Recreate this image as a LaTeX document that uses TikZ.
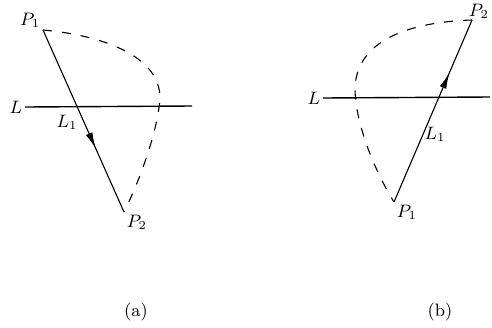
\documentclass[tikz,border=0pt]{standalone}
\usepackage{amsmath}
\usetikzlibrary{arrows.meta, decorations.markings}

\tikzset{
  seg/.style={line width=0.55pt},
  baseline/.style={line width=0.7pt},
  swing/.style={dashed, dash pattern=on 4.5pt off 5pt, line width=0.55pt},
  midarrow/.style={postaction={decorate, decoration={markings,
      mark=at position #1 with {\arrow{Latex[length=8pt, width=3.5pt]}}}}},
  lbl/.style={font=\small, inner sep=1.2pt}
}

\begin{document}
\begin{tikzpicture}[x=0.5pt, y=-0.5pt]
				\useasboundingbox (0,0) rectangle (492,327);
				% (a)
				\coordinate (aP1) at (43,30);
				\coordinate (aP2) at (124,212);
				\coordinate (aK) at (160,98);
				\coordinate (aL0) at (25,107);
				\coordinate (aL1) at (192,106);
				\draw[baseline] (aL0) -- (aL1);
				\draw[seg, midarrow=0.65] (aP1) -- (aP2);
				\draw[swing] (aP1) .. controls (100,35) and (160,55) .. (aK)
				  .. controls (158,130) and (140,180) .. (aP2);
				\node[lbl, left] (aL) at (aL0) {$L$};
				\node[lbl] (aLone) at (67,122) {$L_1$};
				\node[lbl, above left] (aP1t) at (aP1) {$P_1$};
				\node[lbl, below right] (aP2t) at (aP2) {$P_2$};
				\node[font=\small] (capa) at (136,312) {(a)};
				% (b)
				\coordinate (bP1) at (394,202);
				\coordinate (bP2) at (472,20);
				\coordinate (bK) at (355,90);
				\coordinate (bL0) at (323,98);
				\coordinate (bL1) at (490,97);
				\draw[baseline] (bL0) -- (bL1);
				\draw[seg, midarrow=0.71] (bP1) -- (bP2);
				\draw[swing] (bP2) .. controls (410,22) and (355,40) .. (bK)
				  .. controls (356,130) and (380,180) .. (bP1);
				\node[lbl, left] (bL) at (bL0) {$L$};
				\node[lbl] (bLone) at (435,134) {$L_1$};
				\node[lbl] (bP2t) at (479,11) {$P_2$};
				\node[lbl, below right] (bP1t) at (bP1) {$P_1$};
				\node[font=\small] (capb) at (440,312) {(b)};
			\end{tikzpicture}
\end{document}
